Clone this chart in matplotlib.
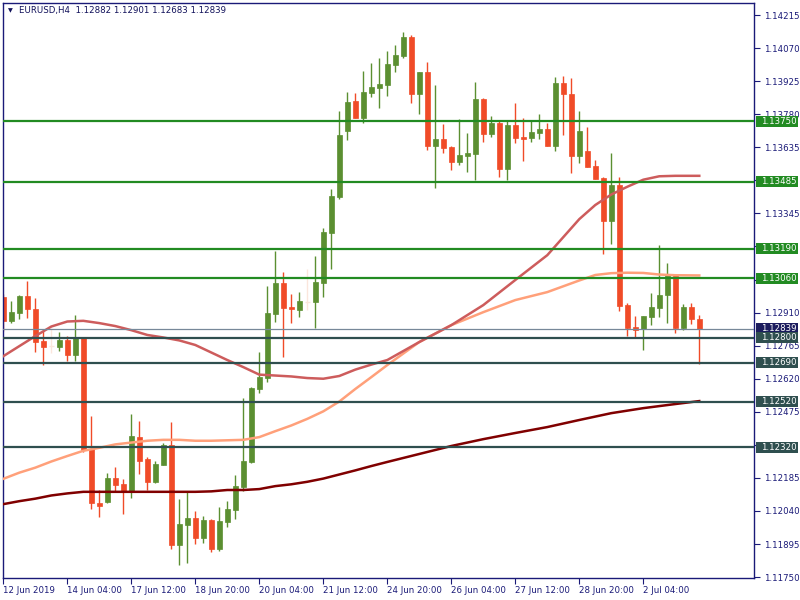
import matplotlib
matplotlib.use('Agg')
import matplotlib.pyplot as plt
from matplotlib.patches import Rectangle
from matplotlib.transforms import blended_transform_factory

# ---------------- data (EURUSD H4) ----------------
opens = [1.12979, 1.12874, 1.12909, 1.12983, 1.12924, 1.12785, 1.12763, 1.12760, 1.12790, 1.12725,
         1.12803, 1.12310, 1.12075, 1.12080, 1.12184, 1.12158, 1.12127, 1.12364, 1.12268, 1.12168,
         1.12243, 1.12328, 1.11892, 1.11980, 1.12009, 1.11922, 1.12000, 1.11874, 1.11993, 1.12045,
         1.12145, 1.12255, 1.12576, 1.12624, 1.12905, 1.13040, 1.12933, 1.12922, 1.12958, 1.12956,
         1.13040, 1.13259, 1.13417, 1.13708, 1.13838, 1.13765, 1.13874, 1.13896, 1.13909, 1.13997,
         1.14036, 1.14119, 1.13870, 1.13965, 1.13642, 1.13671, 1.13636, 1.13572, 1.13598, 1.13607,
         1.13847, 1.13694, 1.13741, 1.13541, 1.13733, 1.13680, 1.13677, 1.13699, 1.13715, 1.13642,
         1.13917, 1.13869, 1.13598, 1.13619, 1.13553, 1.13500, 1.13313, 1.13469, 1.12943, 1.12847,
         1.12839, 1.12892, 1.12931, 1.12987, 1.13075, 1.12844, 1.12934, 1.12882]
highs = [1.12991, 1.12961, 1.12987, 1.13048, 1.12974, 1.12833, 1.12842, 1.12825, 1.12807, 1.12899,
         1.12805, 1.12456, 1.12132, 1.12206, 1.12233, 1.12179, 1.12465, 1.12434, 1.12276, 1.12259,
         1.12338, 1.12430, 1.12092, 1.12123, 1.12040, 1.12018, 1.12006, 1.12057, 1.12083, 1.12197,
         1.12535, 1.12585, 1.12737, 1.13026, 1.13180, 1.13088, 1.12991, 1.13000, 1.13101, 1.13158,
         1.13281, 1.13452, 1.13794, 1.13877, 1.13873, 1.13969, 1.14004, 1.14026, 1.14057, 1.14083,
         1.14140, 1.14127, 1.13965, 1.14009, 1.13908, 1.13737, 1.13640, 1.13759, 1.13697, 1.13921,
         1.13851, 1.13772, 1.13756, 1.13756, 1.13829, 1.13763, 1.13754, 1.13781, 1.13741, 1.13943,
         1.13947, 1.13939, 1.13794, 1.13724, 1.13579, 1.13504, 1.13610, 1.13504, 1.12952, 1.12895,
         1.12895, 1.12996, 1.13206, 1.13127, 1.13079, 1.12947, 1.12952, 1.12901]
lows = [1.12830, 1.12865, 1.12883, 1.12887, 1.12738, 1.12681, 1.12733, 1.12743, 1.12699, 1.12699,
        1.12300, 1.12050, 1.12015, 1.12073, 1.12124, 1.12028, 1.12098, 1.12203, 1.12133, 1.12164,
        1.12240, 1.11874, 1.11804, 1.11813, 1.11896, 1.11900, 1.11861, 1.11865, 1.11968, 1.12006,
        1.12129, 1.12251, 1.12558, 1.12607, 1.12870, 1.12716, 1.12865, 1.12892, 1.12921, 1.12842,
        1.12978, 1.13101, 1.13408, 1.13668, 1.13765, 1.13743, 1.13857, 1.13808, 1.13861, 1.13966,
        1.14028, 1.13830, 1.13782, 1.13624, 1.13458, 1.13611, 1.13536, 1.13558, 1.13528, 1.13493,
        1.13659, 1.13681, 1.13506, 1.13493, 1.13655, 1.13576, 1.13659, 1.13672, 1.13642, 1.13620,
        1.13690, 1.13523, 1.13567, 1.13550, 1.13497, 1.13168, 1.13212, 1.12918, 1.12808, 1.12800,
        1.12747, 1.12857, 1.12892, 1.12865, 1.12822, 1.12835, 1.12861, 1.12683]
closes = [1.12874, 1.12912, 1.12983, 1.12924, 1.12782, 1.12760, 1.12763, 1.12790, 1.12725, 1.12803,
          1.12307, 1.12073, 1.12063, 1.12183, 1.12155, 1.12127, 1.12368, 1.12260, 1.12168, 1.12246,
          1.12328, 1.11892, 1.11983, 1.12009, 1.11922, 1.12000, 1.11874, 1.11996, 1.12048, 1.12149,
          1.12259, 1.12579, 1.12627, 1.12908, 1.13040, 1.12931, 1.12927, 1.12961, 1.12958, 1.13044,
          1.13263, 1.13421, 1.13689, 1.13833, 1.13765, 1.13877, 1.13899, 1.13912, 1.14000, 1.14040,
          1.14119, 1.13870, 1.13965, 1.13642, 1.13671, 1.13633, 1.13572, 1.13601, 1.13610, 1.13847,
          1.13694, 1.13741, 1.13541, 1.13733, 1.13677, 1.13672, 1.13702, 1.13715, 1.13642, 1.13917,
          1.13870, 1.13598, 1.13706, 1.13550, 1.13497, 1.13313, 1.13469, 1.12940, 1.12844, 1.12835,
          1.12895, 1.12934, 1.12987, 1.13079, 1.12844, 1.12934, 1.12883, 1.12839]

red_idx = [0, 2, 4, 6, 8, 10, 12, 14, 16, 18, 20, 22, 24, 26, 28, 30, 32, 34, 36, 38, 40, 42, 44, 46, 48,
           52, 56, 60, 64, 68, 72, 74, 76, 78, 80, 82, 84, 87]
ma_red = [1.12719, 1.12763, 1.12807, 1.12849, 1.12871, 1.12874, 1.12864, 1.12851, 1.12833, 1.12812,
          1.12801, 1.12788, 1.12768, 1.12735, 1.12702, 1.12671, 1.12638, 1.12634, 1.12630, 1.12623,
          1.12620, 1.12632, 1.12660, 1.12682, 1.12702,
          1.12781, 1.12855, 1.12943, 1.13053, 1.13162, 1.13320, 1.13382, 1.13428, 1.13462, 1.13493,
          1.13508, 1.13510, 1.13510]
salmon_idx = [0, 2, 4, 6, 8, 10, 12, 14, 16, 18, 20, 22, 24, 26, 28, 30, 32, 34, 36, 38, 40, 42, 44, 46, 48,
              52, 56, 60, 64, 68, 72, 74, 76, 78, 80, 82, 84, 87]
ma_salmon = [1.12181, 1.12208, 1.12230, 1.12257, 1.12281, 1.12304, 1.12317, 1.12332, 1.12340, 1.12348,
             1.12352, 1.12352, 1.12348, 1.12348, 1.12350, 1.12352, 1.12364, 1.12390, 1.12415, 1.12444,
             1.12477, 1.12520, 1.12575, 1.12627, 1.12680,
             1.12781, 1.12855, 1.12912, 1.12965, 1.13000, 1.13051, 1.13075, 1.13083, 1.13085, 1.13084,
             1.13077, 1.13074, 1.13073]
maroon_idx = [0, 2, 4, 6, 8, 10, 12, 14, 16, 18, 20, 22, 24, 26, 28, 30, 32, 34, 36, 38, 40, 42, 44, 46, 48,
              52, 56, 60, 64, 68, 72, 76, 80, 84, 87]
ma_maroon = [1.12070, 1.12083, 1.12094, 1.12108, 1.12117, 1.12124, 1.12124, 1.12124, 1.12124, 1.12124,
             1.12124, 1.12124, 1.12124, 1.12126, 1.12132, 1.12132, 1.12136, 1.12149, 1.12157, 1.12168,
             1.12182, 1.12200, 1.12218, 1.12237, 1.12255,
             1.12290, 1.12325, 1.12355, 1.12382, 1.12408, 1.12439, 1.12469, 1.12491, 1.12509, 1.12522]

green_levels = [1.13750, 1.13485, 1.13190, 1.13060]
slate_levels = [1.12800, 1.12690, 1.12520, 1.12320]
bid_price = 1.12839

ytick_vals = [1.14215, 1.14070, 1.13925, 1.13780, 1.13635, 1.13490, 1.13345, 1.13200, 1.13055,
              1.12910, 1.12765, 1.12620, 1.12475, 1.12330, 1.12185, 1.12040, 1.11895, 1.11750]
# labels fully covered by the level boxes in the original are left blank
ytick_labels = ["1.14215", "1.14070", "1.13925", "1.13780", "1.13635", "", "1.13345", "",
                "", "1.12910", "1.12765", "1.12620", "1.12475", "", "1.12185", "1.12040",
                "1.11895", "1.11750"]
xtick_idx = [0, 8, 16, 24, 32, 40, 48, 56, 64, 72, 80]
xtick_labels = ["12 Jun 2019", "14 Jun 04:00", "17 Jun 12:00", "18 Jun 20:00", "20 Jun 04:00",
                "21 Jun 12:00", "24 Jun 20:00", "26 Jun 04:00", "27 Jun 12:00", "28 Jun 20:00",
                "2 Jul 04:00"]
title = "EURUSD,H4  1.12882 1.12901 1.12683 1.12839"

# ---------------- style ----------------
BULL = '#5b8f31'
BEAR = '#f04b28'
DOJI = '#fbe6dc'
NAVY = '#1a1a78'
GREEN = '#228b22'
SLATE = '#2f4f4f'
FS = 6.2

plt.rcParams['font.family'] = ['DejaVu Sans']

W_PX, H_PX = 751, 575
fig = plt.figure(figsize=(8, 6), dpi=100)
fig.patch.set_facecolor('white')
ax = fig.add_axes([3 / 800, 22 / 600, W_PX / 800, H_PX / 600])
ax.set_facecolor('white')

n = len(opens)
body_w = 0.62
for i in range(n):
    o, h, l, c = opens[i], highs[i], lows[i], closes[i]
    if abs(c - o) < 1e-9:
        col = DOJI
    elif c > o:
        col = BULL
    else:
        col = BEAR
    ax.vlines(i, l, h, color=col, lw=1.0, zorder=2)
    lo, hi = min(o, c), max(o, c)
    if hi - lo < 1e-9:
        ax.hlines(o, i - body_w / 2, i + body_w / 2, color=col, lw=1.0, zorder=2)
    else:
        ax.bar(i, hi - lo, bottom=lo, width=body_w, color=col, edgecolor=col, lw=0.5, zorder=2)

ax.plot(maroon_idx, ma_maroon, color='#800000', lw=1.8, zorder=3)
ax.plot(salmon_idx, ma_salmon, color='#ffa07a', lw=1.8, zorder=3)
ax.plot(red_idx, ma_red, color='#cd5c5c', lw=1.8, zorder=3)

for lv in green_levels:
    ax.axhline(lv, color=GREEN, lw=1.6, zorder=4)
for lv in slate_levels:
    ax.axhline(lv, color=SLATE, lw=1.6, zorder=4)
ax.axhline(bid_price, color='#778899', lw=0.9, zorder=4)

ymin, ymax = 1.11746, 1.14268
ax.set_xlim(-0.04, 93.84)
ax.set_ylim(ymin, ymax)

ax.yaxis.tick_right()
ax.set_yticks(ytick_vals)
ax.set_yticklabels(ytick_labels)
ax.set_xticks(xtick_idx)
ax.set_xticklabels(xtick_labels)
for lbl in ax.get_xticklabels():
    lbl.set_ha('left')
ax.tick_params(axis='y', direction='out', length=4, width=0.8, color=NAVY,
               labelcolor=NAVY, labelsize=FS, pad=3)
ax.tick_params(axis='x', direction='out', length=4, width=0.8, color=NAVY,
               labelcolor=NAVY, labelsize=FS, pad=2)
for sp in ax.spines.values():
    sp.set_color(NAVY)
    sp.set_linewidth(1.0)

trans = blended_transform_factory(ax.transAxes, ax.transData)
px_price = (ymax - ymin) / H_PX
box_h = 11 * px_price
box_x0 = 1 + 2 / W_PX
box_w = 42 / W_PX


def price_box(val, fc):
    ax.add_patch(Rectangle((box_x0, val - box_h / 2), box_w, box_h, transform=trans,
                           fc=fc, ec='none', clip_on=False, zorder=10))
    ax.text(1 + 7 / W_PX, val, f"{val:.5f}", transform=trans, ha='left', va='center',
            fontsize=FS, color='white', clip_on=False, zorder=11)


price_box(bid_price, '#1c1c5e')
for lv in slate_levels:
    price_box(lv, SLATE)
for lv in green_levels:
    price_box(lv, GREEN)

fig.text(8 / 800, 1 - 11 / 600, "\u25BC", fontsize=4.5, color='#10105a', va='center', ha='left')
fig.text(19 / 800, 1 - 11 / 600, title, fontsize=FS, color='#10105a', va='center', ha='left')

fig.savefig('out.png', dpi=100)
